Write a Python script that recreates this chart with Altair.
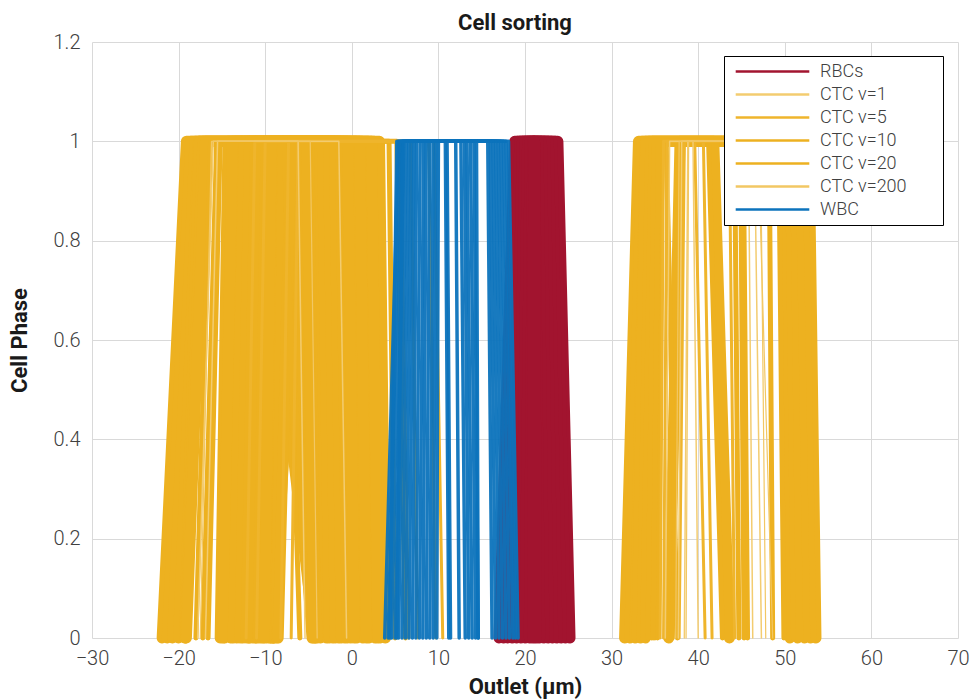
import altair as alt
import pandas as pd

# ---------------- data ----------------
SERIES = ["RBCs", "CTC v=1", "CTC v=5", "CTC v=10", "CTC v=20", "CTC v=200", "WBC"]
COLORS = ["#A2142F", "#F3CC70", "#EFB52C", "#EDB120", "#EDB120", "#F2C763", "#0C73BC"]

X_TICKS = [-30, -20, -10, 0, 10, 20, 30, 40, 50, 60, 70]
Y_TICKS = [0, 0.2, 0.4, 0.6, 0.8, 1.0, 1.2]

# every trace: (rise start, rise end, fall start, fall end) outlet position in µm;
# phase goes 0 -> 1 between the first two, stays 1, and 1 -> 0 between the last two
RBC = [
    (17.0, 18.8, 23.8, 25.2), (17.5, 19.1, 23.5, 24.7), (18.0, 19.4, 23.1, 24.2),
    (18.5, 19.7, 22.7, 23.7), (19.0, 20.0, 22.3, 23.2), (19.5, 20.3, 21.9, 22.7),
    (20.0, 20.6, 21.5, 22.2), (20.5, 20.9, 21.1, 21.7), (20.9, 21.0, 21.1, 21.3),
]

CTC_V10 = [
    (-21.9, -19.1, -12.6, -11.8), (-21.3, -18.6, -11.8, -11.0), (-20.7, -18.1, -11.0, -10.2),
    (-20.0, -17.7, -10.2, -9.4), (-19.3, -17.6, -9.6, -8.9),
    (-14.7, -13.5, -4.4, -3.6), (-14.0, -12.8, -3.7, -2.9), (-13.3, -12.0, -3.0, -2.2),
    (-12.6, -11.4, -2.3, -1.5), (-11.9, -10.8, -1.6, -0.8), (-11.2, -10.2, -0.9, -0.1),
    (-10.5, -9.6, -0.2, 0.6), (-9.8, -9.0, 0.5, 1.3), (-9.2, -8.0, 1.2, 2.0),
    (-9.1, -5.7, 1.9, 2.7), (-9.4, -6.6, 2.6, 3.3), (-9.0, -7.2, 3.2, 3.9),
    (-19.2, -17.2, -11.0, -4.3), (-19.1, -16.9, -8.5, -4.6),
    (-15.2, -14.3, -7.0, -4.2), (-14.9, -13.8, -6.0, -4.0),
    (-13.7, -12.4, -5.2, -4.4), (-12.9, -11.8, -3.4, -2.6), (-12.2, -11.1, -2.7, -1.9),
    (-11.5, -10.6, -2.0, -1.2), (-10.8, -9.9, -1.3, -0.5), (-10.1, -9.3, -0.5, 0.3),
    (-8.7, -7.9, 0.9, 1.7), (-8.5, -7.0, 2.3, 3.0),
    (31.5, 33.1, 52.8, 53.6), (32.1, 33.5, 52.1, 53.0), (32.7, 33.9, 51.4, 52.3),
    (33.3, 34.3, 50.6, 51.5), (33.9, 34.7, 49.8, 50.6),
    (36.6, 37.9, 41.8, 43.6),
]

CTC_V20 = [
    (-18.0, -16.3, -7.8, -6.0), (-17.2, -15.6, 4.3, 5.0), (-16.6, -15.2, 5.2, 6.2),
    (34.6, 35.2, 48.2, 48.6), (35.0, 35.5, 45.2, 45.7), (35.3, 35.8, 44.2, 44.7),
    (37.0, 38.2, 41.2, 42.8), (33.0, 34.0, 36.3, 37.6), (34.2, 34.9, 49.3, 49.9),
    (34.8, 35.4, 44.9, 45.3), (32.6, 33.6, 50.3, 51.0),
]

CTC_V5 = [
    (-12.2, -11.2, 5.6, 6.6), (-11.0, -10.0, 6.8, 7.6),
    (-8.2, -7.3, 8.9, 9.7), (-7.0, -6.2, 9.5, 10.5),
    (35.6, 36.0, 40.6, 41.6), (36.0, 36.4, 43.6, 44.2), (37.8, 38.4, 39.6, 40.8),
]

CTC_V1 = [
    (-17.8, -16.0, -6.2, -5.4), (-16.9, -15.5, -1.5, -0.6),
    (36.2, 36.7, 46.5, 47.3), (38.4, 38.8, 39.4, 40.0), (37.7, 38.1, 45.8, 46.3),
]

CTC_V200 = [
    (-17.5, -16.2, -4.8, -4.0), (37.4, 37.8, 46.9, 48.6), (38.6, 38.9, 47.2, 47.8),
]

WBC = [
    (3.8, 5.4, 18.1, 19.2), (4.2, 5.6, 17.8, 18.9), (4.6, 5.8, 17.5, 18.6),
    (5.0, 6.0, 17.2, 18.2), (5.4, 6.3, 16.9, 17.8), (5.8, 6.6, 16.6, 17.4),
    (6.2, 6.9, 16.3, 17.0), (6.6, 7.2, 16.0, 16.6), (7.0, 7.5, 15.7, 16.2),
    (7.4, 7.9, 14.1, 14.6), (7.8, 8.3, 13.7, 14.3), (8.2, 8.6, 13.3, 13.9),
    (8.6, 9.0, 13.0, 13.5), (9.0, 9.4, 12.6, 13.1), (9.4, 9.7, 11.0, 11.4),
    (9.8, 10.0, 10.8, 11.2), (5.2, 5.9, 12.0, 12.4), (4.4, 5.2, 14.4, 14.6),
]

# ---------------- table ----------------
GROUPS = [
    ("RBCs", RBC), ("CTC v=10", CTC_V10), ("CTC v=20", CTC_V20), ("CTC v=5", CTC_V5),
    ("CTC v=1", CTC_V1), ("CTC v=200", CTC_V200), ("WBC", WBC),
]
rows = []
for name, traces in GROUPS:
    for i, (a, b, c, d) in enumerate(traces):
        for k, (xv, yv) in enumerate([(a, 0.0), (b, 1.0), (c, 1.0), (d, 0.0)]):
            rows.append({"series": name, "trace": f"{name}#{i}", "k": k, "x": xv, "y": yv})
df = pd.DataFrame(rows)

FONT = "Roboto"
PAD_TAIL = "\u00a0" + "\u2800" * 2  # blank glyphs that widen the legend box on the right
xaxis = alt.Axis(values=X_TICKS, title="Outlet (μm)", grid=True, domain=False, ticks=False,
                 labelFont=FONT, labelFontSize=20, labelFontWeight=300, labelColor="#404040",
                 labelPadding=10, labelFlush=False, titleFont=FONT, titleFontSize=22,
                 titleFontWeight="bold", titleColor="#1a1a1a", titlePadding=8)
yaxis = alt.Axis(values=Y_TICKS, title="Cell Phase", grid=True, domain=False, ticks=False,
                 format=".1~f", labelFont=FONT, labelFontSize=20, labelFontWeight=300,
                 labelColor="#404040", labelPadding=12, labelFlush=False, titleFont=FONT,
                 titleFontSize=22, titleFontWeight="bold", titleColor="#1a1a1a", titlePadding=22)

legend = alt.Legend(title=None, orient="none", legendX=632, legendY=14,
                    symbolType="M-4.6,0H4.6", symbolSize=256, symbolStrokeWidth=2.4,
                    symbolOffset=33, labelOffset=38, rowPadding=4.0, padding=6,
                    strokeColor="black", fillColor="white",
                    labelFont=FONT, labelFontSize=18, labelFontWeight=300, labelColor="#404040",
                    labelExpr="datum.label + '" + PAD_TAIL + "'", labelLimit=300)

color = alt.Color("series:N", scale=alt.Scale(domain=SERIES, range=COLORS), legend=legend)

STYLE = {"RBCs": (11, 1.0), "CTC v=10": (11, 1.0), "CTC v=20": (5, 1.0), "CTC v=5": (3, 1.0),
         "CTC v=1": (1.5, 1.0), "CTC v=200": (1.2, 1.0), "WBC": (3.5, 0.95)}


def layer(name):
    w, op = STYLE[name]
    return alt.Chart(df).transform_filter(alt.datum.series == name).mark_line(
        strokeWidth=w, opacity=op, strokeJoin="round", strokeCap="round"
    ).encode(
        x=alt.X("x:Q", scale=alt.Scale(domain=[-30, 70], nice=False), axis=xaxis),
        y=alt.Y("y:Q", scale=alt.Scale(domain=[0, 1.2], nice=False), axis=yaxis),
        color=color,
        detail="trace:N",
        order="k:Q",
    )


chart = alt.layer(*[layer(n) for n, _ in GROUPS]).properties(
    width=866, height=596,
    title=alt.TitleParams("Cell sorting", font=FONT, fontSize=22, fontWeight="bold",
                          color="#1a1a1a", offset=-3, dx=-10),
    autosize=alt.AutoSizeParams(type="none"),
    padding={"left": 92, "top": 42, "right": 12, "bottom": 61},
).configure_view(stroke=None).configure_axis(gridColor="#d9d9d9", gridWidth=1)

chart.save("out.html", embed_options={"renderer": "svg", "actions": False})
